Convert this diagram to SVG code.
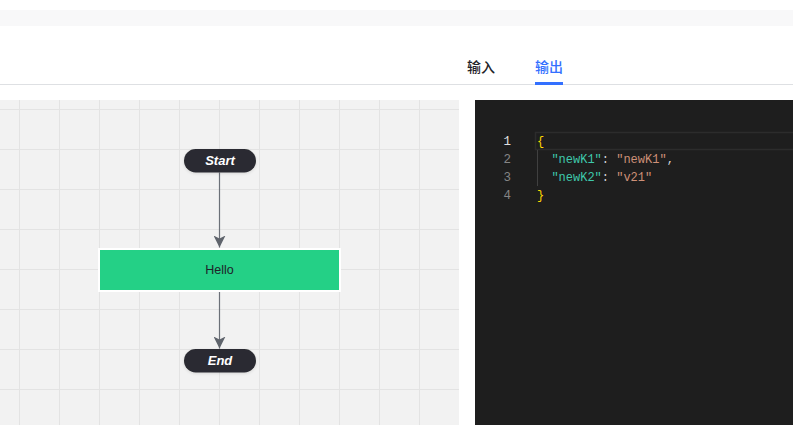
<svg xmlns="http://www.w3.org/2000/svg" width="793" height="425" viewBox="0 0 793 425">
<style>
.tab{font-family:"Noto Sans CJK SC","Liberation Sans",sans-serif;font-size:14px;font-weight:500}
.grid{stroke:#e3e3e3;stroke-width:1}
.pill{fill:#2a2b30}
.pilltxt{font-family:"Liberation Sans",Arial,sans-serif;font-size:13px;font-weight:bold;font-style:italic;fill:#ffffff;text-anchor:middle}
.edge{stroke:#6b7078;stroke-width:1.2;fill:none}
.ln{font-family:"Liberation Mono","DejaVu Sans Mono",monospace;font-size:12.5px;text-anchor:end}
.code{font-family:"Liberation Mono","DejaVu Sans Mono",monospace;font-size:12px;white-space:pre}
.br{fill:#ffd700}
.key{fill:#3ec9ac}
.val{fill:#ce9178}
.pun{fill:#d4d4d4}
</style>
<defs>
<marker id="arr" viewBox="0 0 12 12" refX="12" refY="6" markerWidth="12" markerHeight="12" markerUnits="userSpaceOnUse" orient="auto">
<path d="M0,0 L12,6 L0,12 L3,6 Z" fill="#5f646c"/>
</marker>
<filter id="sh" x="-20%" y="-40%" width="140%" height="180%">
<feDropShadow dx="0" dy="1" stdDeviation="1.5" flood-color="#000" flood-opacity="0.12"/>
</filter>
</defs>
<rect width="793" height="425" fill="#ffffff"/>
<rect x="0" y="10" width="793" height="16" fill="#f8f8f9"/>
<text class="tab" x="467" y="72" fill="#1f2329">输入</text>
<text class="tab" x="535" y="72" fill="#3370ff">输出</text>
<line x1="0" y1="84.5" x2="793" y2="84.5" stroke="#dee0e3" stroke-width="1"/>
<rect x="535" y="82" width="28" height="3" fill="#3370ff"/>

<g id="canvas">
<rect x="0" y="100" width="459" height="325" fill="#f2f2f2"/>
<g class="grid">
<line x1="19.5" y1="100" x2="19.5" y2="425"/>
<line x1="59.5" y1="100" x2="59.5" y2="425"/>
<line x1="99.5" y1="100" x2="99.5" y2="425"/>
<line x1="139.5" y1="100" x2="139.5" y2="425"/>
<line x1="179.5" y1="100" x2="179.5" y2="425"/>
<line x1="219.5" y1="100" x2="219.5" y2="425"/>
<line x1="259.5" y1="100" x2="259.5" y2="425"/>
<line x1="299.5" y1="100" x2="299.5" y2="425"/>
<line x1="339.5" y1="100" x2="339.5" y2="425"/>
<line x1="379.5" y1="100" x2="379.5" y2="425"/>
<line x1="419.5" y1="100" x2="419.5" y2="425"/>
<line x1="0" y1="109.5" x2="459" y2="109.5"/>
<line x1="0" y1="149.5" x2="459" y2="149.5"/>
<line x1="0" y1="189.5" x2="459" y2="189.5"/>
<line x1="0" y1="229.5" x2="459" y2="229.5"/>
<line x1="0" y1="269.5" x2="459" y2="269.5"/>
<line x1="0" y1="309.5" x2="459" y2="309.5"/>
<line x1="0" y1="349.5" x2="459" y2="349.5"/>
<line x1="0" y1="389.5" x2="459" y2="389.5"/>
</g>
</g>

<g id="connectors">
<line class="edge" x1="219.5" y1="172.5" x2="219.5" y2="247.5" marker-end="url(#arr)"/>
<line class="edge" x1="219.5" y1="291.5" x2="219.5" y2="348.5" marker-end="url(#arr)"/>
</g>

<g id="node-start">
<rect class="pill" x="184" y="149" width="72" height="23.5" rx="11.75" filter="url(#sh)"/>
<text class="pilltxt" x="220" y="165.3">Start</text>
</g>
<g id="node-hello">
<rect x="99" y="249" width="241" height="42" fill="#24d086" stroke="#ffffff" stroke-width="2"/>
<text x="219.5" y="274.3" font-family="Liberation Sans, Arial, sans-serif" font-size="12.5" fill="#1f2329" text-anchor="middle">Hello</text>
</g>
<g id="node-end">
<rect class="pill" x="184" y="349" width="72" height="23.5" rx="11.75" filter="url(#sh)"/>
<text class="pilltxt" x="220" y="365.3">End</text>
</g>

<g id="code">
<rect x="475" y="100" width="318" height="325" fill="#1e1e1e"/>
<rect x="535.5" y="132.5" width="260" height="17" fill="none" stroke="#2c2c2c" stroke-width="1.5"/>
<line x1="537.5" y1="150" x2="537.5" y2="186" stroke="#404040" stroke-width="1"/>
<text class="ln" x="511" y="145" fill="#e0e0e0">1</text>
<text class="ln" x="511" y="163" fill="#858585">2</text>
<text class="ln" x="511" y="181" fill="#858585">3</text>
<text class="ln" x="511" y="199" fill="#858585">4</text>
<text class="code br" x="537" y="145">{</text>
<text class="code" x="551.4" y="163"><tspan class="key">"newK1"</tspan><tspan class="pun">: </tspan><tspan class="val">"newK1"</tspan><tspan class="pun">,</tspan></text>
<text class="code" x="551.4" y="181"><tspan class="key">"newK2"</tspan><tspan class="pun">: </tspan><tspan class="val">"v21"</tspan></text>
<text class="code br" x="537" y="199">}</text>
</g>
</svg>
